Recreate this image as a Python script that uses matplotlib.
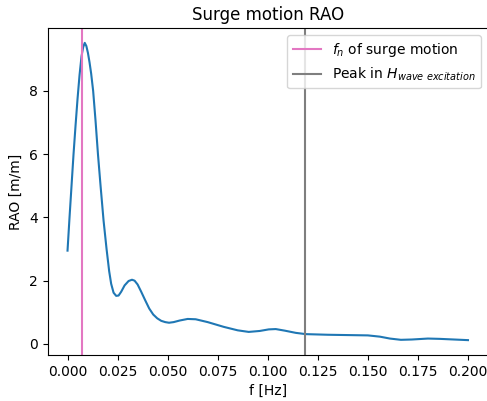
import numpy as np
import matplotlib.pyplot as plt

# frequency axis [Hz] and surge RAO [m/m]
freq = [0.0000, 0.0010, 0.0020, 0.0030, 0.0040, 0.0050, 0.0060, 0.0070,
        0.0078, 0.0086, 0.0094, 0.0102, 0.0110, 0.0118, 0.0128, 0.0140,
        0.0152, 0.0165, 0.0180, 0.0195, 0.0208, 0.0218, 0.0230, 0.0243,
        0.0255, 0.0268, 0.0285, 0.0305, 0.0322, 0.0335, 0.0350, 0.0368,
        0.0388, 0.0408, 0.0428, 0.0448, 0.0468, 0.0488, 0.0507, 0.0530,
        0.0560, 0.0600, 0.0640, 0.0700, 0.0780, 0.0850, 0.0905, 0.0960,
        0.1005, 0.1040, 0.1085, 0.1140, 0.1190, 0.1300, 0.1400, 0.1500,
        0.1560, 0.1610, 0.1665, 0.1720, 0.1800, 0.1860, 0.1930, 0.2000]
rao = [2.95, 4.00, 5.00, 6.00, 6.90, 7.75, 8.50, 9.10,
       9.38, 9.52, 9.42, 9.20, 8.90, 8.55, 8.00, 7.05,
       6.00, 5.00, 3.90, 3.00, 2.30, 1.90, 1.62, 1.52,
       1.53, 1.65, 1.85, 1.99, 2.03, 2.00, 1.88, 1.65,
       1.38, 1.12, 0.93, 0.81, 0.73, 0.69, 0.67, 0.69,
       0.74, 0.79, 0.78, 0.69, 0.54, 0.43, 0.38, 0.41,
       0.46, 0.47, 0.42, 0.35, 0.31, 0.29, 0.28, 0.27,
       0.23, 0.17, 0.13, 0.14, 0.17, 0.16, 0.14, 0.12]

f_n = 0.0074        # natural frequency in surge
f_peak_exc = 0.1187  # peak of wave excitation transfer function

fig = plt.figure(figsize=(4.87, 4.01), dpi=100)
ax = fig.add_axes([47.5 / 487, 46 / 401, 440.5 / 487, 327 / 401])

ax.plot(freq, rao)
ax.axvline(f_n, color='tab:pink', label='$f_n$ of surge motion')
ax.axvline(f_peak_exc, color='tab:gray', label='Peak in $H_{wave\\ excitation}$')

ax.set_title('Surge motion RAO')
ax.set_xlabel('f [Hz]')
ax.set_ylabel('RAO [m/m]')
ax.legend(loc='upper right')

fig.savefig('out.png', dpi=100)
